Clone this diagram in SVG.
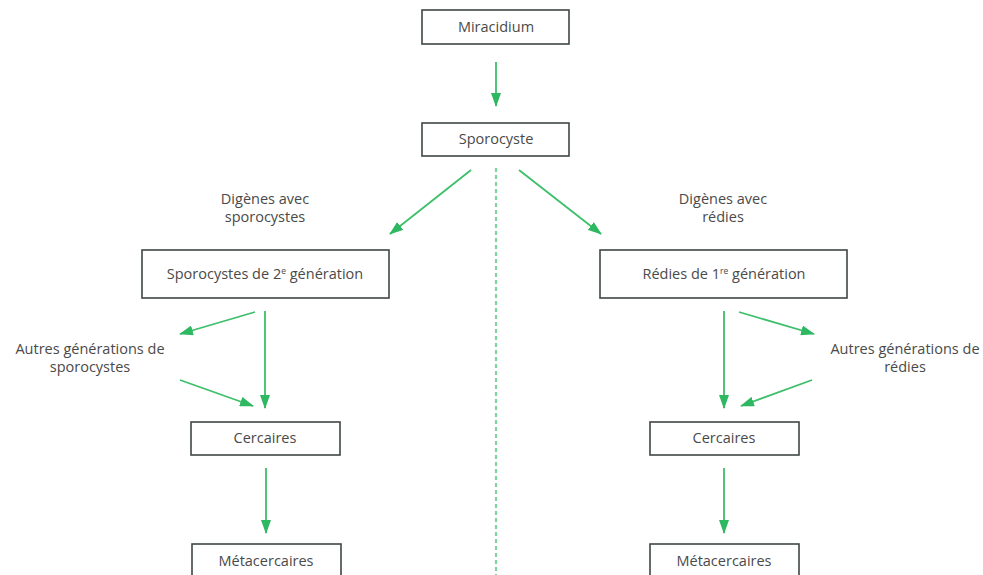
<svg xmlns="http://www.w3.org/2000/svg" width="983" height="575" viewBox="0 0 983 575">
<style>
.box{fill:#fff;stroke:#3f4745;stroke-width:1.6}
.t{font-family:"Open Sans","Noto Sans",sans-serif;font-size:14.5px;fill:#4a4a4a;text-anchor:middle}
.sup{font-size:8.5px}
.c{stroke:#3dbf6b;stroke-width:1.8;fill:none}
.d{stroke:#7fd4a0;stroke-width:2.2;stroke-dasharray:4 3;fill:none}
</style>
<defs>
<marker id="ah" viewBox="0 0 14 10" refX="13" refY="5" markerWidth="14" markerHeight="10" markerUnits="userSpaceOnUse" orient="auto">
<path d="M0,0 L14,5 L0,10 z" fill="#2fb862"/>
</marker>
</defs>
<rect width="983" height="575" fill="#fff"/>
<g id="connectors">
<line class="c" x1="496" y1="62" x2="496" y2="106" marker-end="url(#ah)"/>
<line class="c" x1="471" y1="170" x2="390" y2="234" marker-end="url(#ah)"/>
<line class="c" x1="519" y1="170" x2="601" y2="234" marker-end="url(#ah)"/>
<line class="d" x1="496" y1="168" x2="496" y2="575"/>
<line class="c" x1="255" y1="312" x2="180" y2="334" marker-end="url(#ah)"/>
<line class="c" x1="265" y1="311" x2="265" y2="408" marker-end="url(#ah)"/>
<line class="c" x1="180" y1="380" x2="253" y2="406" marker-end="url(#ah)"/>
<line class="c" x1="266" y1="468" x2="266" y2="533" marker-end="url(#ah)"/>
<line class="c" x1="739" y1="312" x2="814" y2="334" marker-end="url(#ah)"/>
<line class="c" x1="724" y1="311" x2="724" y2="408" marker-end="url(#ah)"/>
<line class="c" x1="812" y1="380" x2="741" y2="406" marker-end="url(#ah)"/>
<line class="c" x1="724" y1="468" x2="724" y2="533" marker-end="url(#ah)"/>
</g>
<g id="miracidium"><rect class="box" x="422" y="10" width="147" height="34"/><text class="t" x="496" y="32">Miracidium</text></g>
<g id="sporocyste"><rect class="box" x="422" y="123" width="147" height="33"/><text class="t" x="496" y="144">Sporocyste</text></g>
<g id="label-digenes-sporo"><text class="t" x="265" y="204">Digènes avec</text><text class="t" x="265" y="222">sporocystes</text></g>
<g id="label-digenes-redies"><text class="t" x="723" y="204">Digènes avec</text><text class="t" x="723" y="222">rédies</text></g>
<g id="sporo2"><rect class="box" x="142" y="250" width="247" height="48"/><text class="t" x="265" y="279">Sporocystes de 2<tspan class="sup" dy="-5">e</tspan><tspan dy="5"> génération</tspan></text></g>
<g id="redies1"><rect class="box" x="600" y="250" width="247" height="48"/><text class="t" x="724" y="279">Rédies de 1<tspan class="sup" dy="-5">re</tspan><tspan dy="5"> génération</tspan></text></g>
<g id="autres-sporo"><text class="t" x="90" y="354">Autres générations de</text><text class="t" x="90" y="372">sporocystes</text></g>
<g id="autres-redies"><text class="t" x="905" y="354">Autres générations de</text><text class="t" x="905" y="372">rédies</text></g>
<g id="cercaires-l"><rect class="box" x="191" y="422" width="149" height="33"/><text class="t" x="265" y="443">Cercaires</text></g>
<g id="cercaires-r"><rect class="box" x="650" y="422" width="149" height="33"/><text class="t" x="724" y="443">Cercaires</text></g>
<g id="meta-l"><rect class="box" x="192" y="544" width="149" height="40"/><text class="t" x="266" y="566">Métacercaires</text></g>
<g id="meta-r"><rect class="box" x="650" y="544" width="149" height="40"/><text class="t" x="724" y="566">Métacercaires</text></g>
</svg>
